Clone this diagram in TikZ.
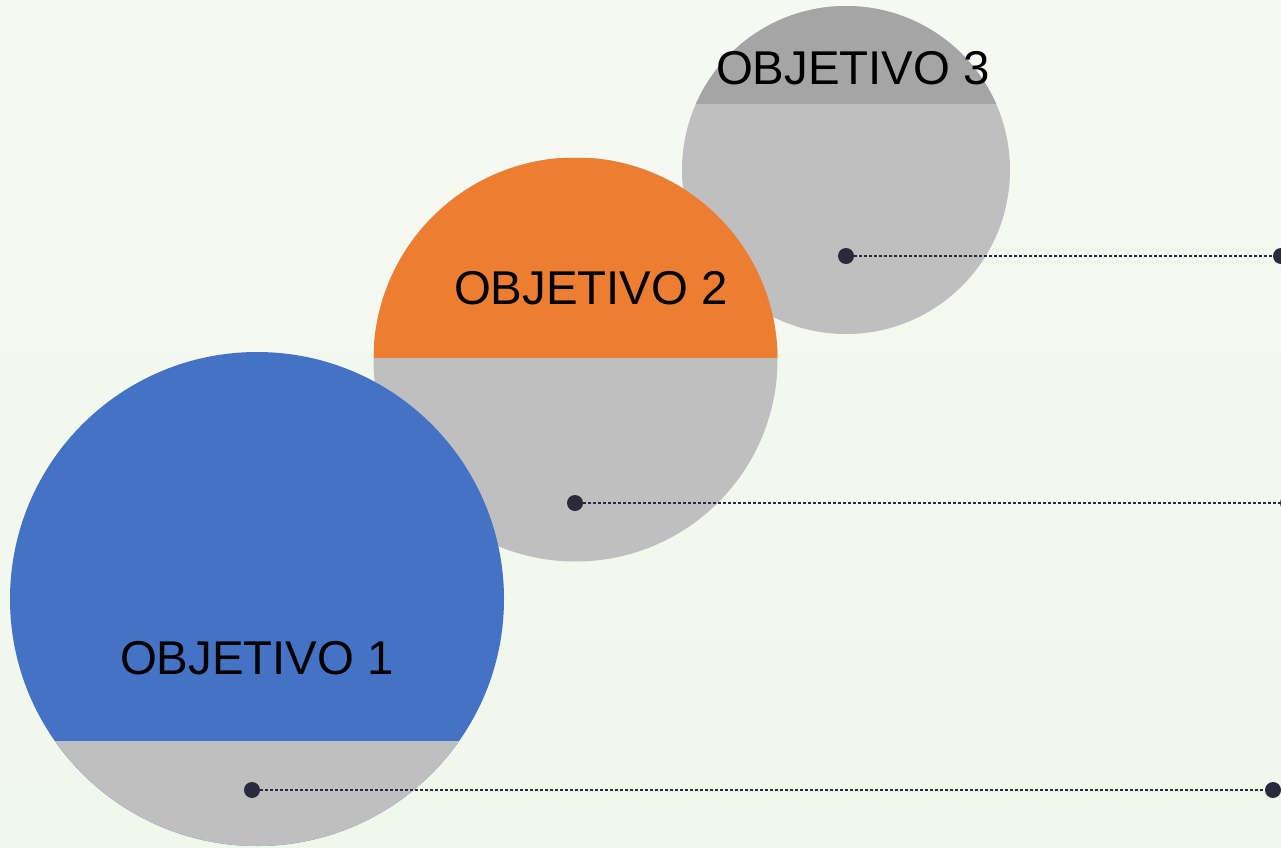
\documentclass[tikz,border=0pt]{standalone}
\usepackage{fontspec}
\setmainfont{Liberation Sans}
\usetikzlibrary{calc}
\definecolor{bgtop}{HTML}{F6F9F2}
\definecolor{bgbot}{HTML}{F0F7EB}
\definecolor{objblue}{HTML}{4472C4}
\definecolor{objorange}{HTML}{ED7D31}
\definecolor{objgray}{HTML}{BFBFBF}
\definecolor{objdark}{HTML}{A5A5A5}
\definecolor{dotcol}{HTML}{2B2A3D}
\tikzset{
  bigcircle/.style={circle, inner sep=0pt, draw=none},
  dotnode/.style={circle, inner sep=0pt, minimum size=8pt, fill=dotcol},
  leader/.style={draw=dotcol, line width=1.1pt, dash pattern=on 1.1pt off 1.4pt},
  objlabel/.style={font=\fontsize{23.7}{28}\selectfont, text=black, inner sep=0pt}
}
\begin{document}
\begin{tikzpicture}[x=0.5pt,y=-0.5pt]
\useasboundingbox (0,0) rectangle (1281,847);
\shade[top color=bgtop, bottom color=bgbot] (0,0) rectangle (1281,847);
% circle 3
\node[bigcircle, minimum size=164pt, fill=objgray,
  path picture={\fill[objdark] (path picture bounding box.north west) rectangle ($(path picture bounding box.north east)+(0,98)$);}]
  (c3) at (846,170) {};
% circle 2
\node[bigcircle, minimum size=202pt, fill=objgray,
  path picture={\fill[objorange] (path picture bounding box.north west) rectangle ($(path picture bounding box.east)+(0,-2)$);}]
  (c2) at (575.5,359.5) {};
% circle 1
\node[bigcircle, minimum size=247pt, fill=objblue,
  path picture={\fill[objgray] ($(path picture bounding box.south west)+(0,-105)$) rectangle (path picture bounding box.south east);}]
  (c1) at (257,599) {};
% labels
\node[objlabel] (t3) at (853,68) {OBJETIVO 3};
\node[objlabel] (t2) at (591,288) {OBJETIVO 2};
\node[objlabel] (t1) at (257,658) {OBJETIVO 1};
% dots and leaders
\node[dotnode] (d3) at (846,256) {};
\node[dotnode] (e3) at (1281,256) {};
\node[dotnode] (d2) at (575,503) {};
\node[dotnode] (e2) at (1288,503) {};
\node[dotnode] (d1) at (252,790) {};
\node[dotnode] (e1) at (1273,790) {};
\draw[leader] (d3) -- (e3);
\draw[leader] (d2) -- (e2);
\draw[leader] (d1) -- (e1);
\end{tikzpicture}
\end{document}
